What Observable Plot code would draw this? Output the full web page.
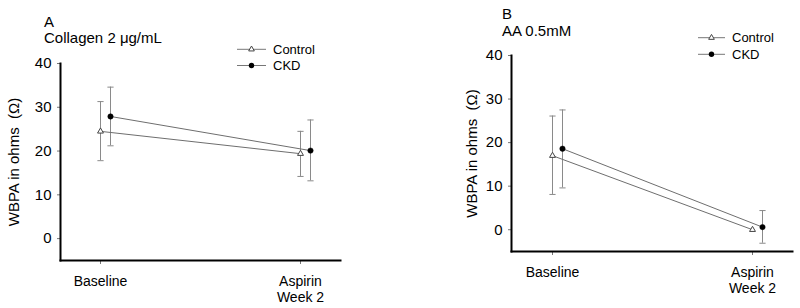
<!DOCTYPE html>
<html>
<head>
<meta charset="utf-8">
<script src="https://cdn.jsdelivr.net/npm/d3@7"></script>
<script src="https://cdn.jsdelivr.net/npm/@observablehq/plot@0.6"></script>
<style>
  body { margin: 0; background: #fff; }
  #wrap { position: relative; width: 800px; height: 308px; font-family: "Liberation Sans", Arial, sans-serif; }
  #wrap svg { position: absolute; top: 0; overflow: visible; }
</style>
</head>
<body>
<div id="wrap"></div>
<script>
// ---- data ----
const timepoints = ["Baseline", "Aspirin\nWeek 2"];
const yTicks = [0, 10, 20, 30, 40];
const yLabel = "WBPA in ohms\u00a0 (\u03a9)";
const seriesNames = ["Control", "CKD"];

// Panel A: Collagen 2 µg/mL
const aTitle = ["A", "Collagen 2 \u03bcg/mL"];
const aControlMean = [24.5, 19.4];
const aControlLo   = [17.8, 14.2];
const aControlHi   = [31.3, 24.5];
const aCkdMean     = [27.9, 20.1];
const aCkdLo       = [21.2, 13.2];
const aCkdHi       = [34.6, 27.1];

// Panel B: AA 0.5mM
const bTitle = ["B", "AA 0.5mM"];
const bControlMean = [17.0, 0.0];
const bControlLo   = [8.1, 0.0];
const bControlHi   = [26.1, 0.0];
const bCkdMean     = [18.6, 0.6];
const bCkdLo       = [9.6, -3.1];
const bCkdHi       = [27.5, 4.4];

function rows(mean, lo, hi) {
  return timepoints.map((t, i) => ({t, y: mean[i], lo: lo[i], hi: hi[i]}));
}

const capSymbol = {draw(ctx, size) { const r = Math.sqrt(size) / 2; ctx.moveTo(-r, 0); ctx.lineTo(r, 0); }};

function panel(cfg) {
  const ctrl = rows(cfg.cm, cfg.cl, cfg.ch);
  const ckd = rows(cfg.km, cfg.kl, cfg.kh);
  const lineC = "#6e6e6e";
  const errC = "#8a8a8a";
  const off = 10;
  const marks = [];
  for (const [data, dx] of [[ctrl, 0], [ckd, off]]) {
    const bars = data.filter(d => d.hi > d.lo);
    marks.push(
      Plot.ruleX(bars, {x: "t", y1: "lo", y2: "hi", dx, stroke: errC, strokeWidth: 1}),
      Plot.dot(bars, {x: "t", y: "lo", dx, symbol: capSymbol, r: 3.5, stroke: errC, strokeWidth: 1, fill: "none"}),
      Plot.dot(bars, {x: "t", y: "hi", dx, symbol: capSymbol, r: 3.5, stroke: errC, strokeWidth: 1, fill: "none"})
    );
  }
  marks.push(
    Plot.line(ctrl, {x: "t", y: "y", stroke: lineC, strokeWidth: 1}),
    Plot.line(ckd, {x: "t", y: "y", dx: off, stroke: lineC, strokeWidth: 1}),
    Plot.dot(ctrl, {x: "t", y: "y", symbol: "triangle", r: 2.2, fill: "white", stroke: "#444", strokeWidth: 1}),
    Plot.dot(ckd, {x: "t", y: "y", dx: off, symbol: "circle", r: 2.7, fill: "black", stroke: "black", strokeWidth: 0.5}),
    Plot.axisY({ticks: yTicks, tickSize: 3, tickPadding: 6, stroke: "#777", fill: "black", fontSize: 15,
                label: yLabel, labelAnchor: "center", labelArrow: false, labelOffset: cfg.labelOffset}),
    Plot.axisX({tickSize: 4, tickFormat: () => "", stroke: "#777", label: null}),
    Plot.text(timepoints, {x: d => d, frameAnchor: "bottom", dy: 15, lineAnchor: "top", lineHeight: 1.1,
                           fontSize: 14, fill: "black"}),
    Plot.frame({anchor: "left", stroke: "black", strokeWidth: 2}),
    Plot.frame({anchor: "bottom", stroke: "black", strokeWidth: 2})
  );
  const svg = Plot.plot({
    width: 400, height: 308,
    marginLeft: cfg.ml, marginRight: cfg.mr, marginTop: cfg.mt, marginBottom: cfg.mb,
    style: {fontFamily: '"Liberation Sans", Arial, sans-serif', fontSize: "14px", color: "black", background: "transparent"},
    x: {type: "point", domain: timepoints, padding: 0.2},
    y: {domain: [-5, 40]},
    marks
  });
  svg.style.left = cfg.left + "px";
  const s = d3.select(svg);
  // titles
  const tg = s.append("g").attr("text-anchor", "start").attr("fill", "black");
  tg.append("text").attr("x", cfg.tx).attr("y", cfg.ty1).attr("font-size", 15).text(cfg.title[0]);
  tg.append("text").attr("x", cfg.tx).attr("y", cfg.ty2).attr("font-size", 15).text(cfg.title[1]);
  // legend
  const lg = s.append("g").attr("text-anchor", "start");
  seriesNames.forEach((name, i) => {
    const y = cfg.ly[i];
    lg.append("line").attr("x1", cfg.lx1).attr("x2", cfg.lx2).attr("y1", y).attr("y2", y).attr("stroke", "#777").attr("stroke-width", 1);
    const cx = (cfg.lx1 + cfg.lx2) / 2;
    if (i === 0) {
      lg.append("path").attr("d", d3.symbol(d3.symbolTriangle, 14)()).attr("transform", `translate(${cx},${y})`)
        .attr("fill", "white").attr("stroke", "#444");
    } else {
      lg.append("circle").attr("cx", cx).attr("cy", y).attr("r", 2.7).attr("fill", "black");
    }
    lg.append("text").attr("x", cfg.lx2 + 7).attr("y", y).attr("dy", "0.35em").attr("font-size", 13).attr("fill", "black").text(name);
  });
  return svg;
}

const wrap = document.getElementById("wrap");
wrap.appendChild(panel({
  left: 0, ml: 60, mr: 60, mt: 63, mb: 48, labelOffset: 52,
  cm: aControlMean, cl: aControlLo, ch: aControlHi, km: aCkdMean, kl: aCkdLo, kh: aCkdHi,
  title: aTitle, tx: 44, ty1: 27, ty2: 43,
  lx1: 237, lx2: 266, ly: [49.3, 65.5]
}));
wrap.appendChild(panel({
  left: 400, ml: 111, mr: 8, mt: 55, mb: 57, labelOffset: 45,
  cm: bControlMean, cl: bControlLo, ch: bControlHi, km: bCkdMean, kl: bCkdLo, kh: bCkdHi,
  title: bTitle, tx: 102, ty1: 19, ty2: 35.5,
  lx1: 298, lx2: 325, ly: [37.7, 54.3]
}));
</script>
</body>
</html>
